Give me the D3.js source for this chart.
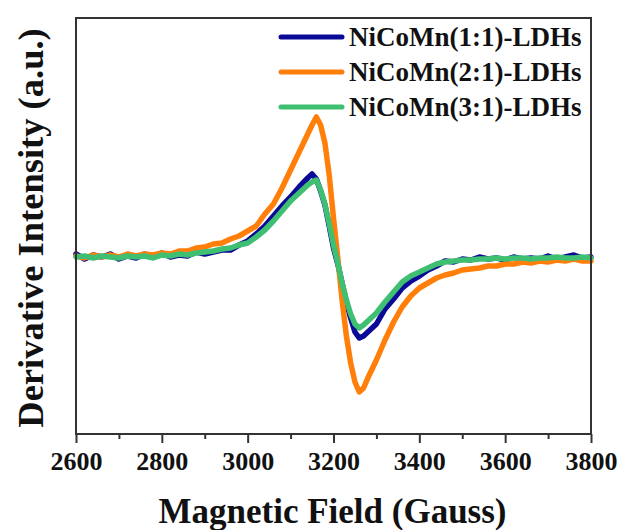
<html>
<head>
<style>
  body { margin: 0; background: #fff; }
  text { font-family: "Liberation Serif", "Times New Roman", serif; font-weight: bold; fill: #111; }
</style>
</head>
<body>
<svg></svg>
<script src="https://d3js.org/d3.v7.min.js"></script>
<script>
// magnetic field (Gauss)
var fieldG = [2600,2620,2640,2660,2680,2700,2720,2740,2760,2780,2800,2820,2840,2860,2880,2900,2920,2940,2960,2980,
  3000,3020,3040,3060,3080,3100,3120,3140,3150,3160,3170,3180,3190,3200,3210,3220,3230,3240,3250,3260,3270,3280,
  3300,3320,3340,3360,3380,3400,3420,3440,3460,3480,3500,3520,3540,3560,3580,3600,3620,3640,3660,3680,3700,3720,3740,3760,3780,3800];

// derivative intensity (a.u.)
var ldh11 = [0.02,-0.03,0.01,-0.01,0.02,-0.03,0.00,-0.02,0.02,-0.01,0.03,-0.01,0.01,0.00,0.04,0.02,0.04,0.06,0.06,0.11,
  0.15,0.22,0.30,0.40,0.50,0.59,0.69,0.78,0.82,0.77,0.65,0.51,0.30,0.08,-0.08,-0.27,-0.46,-0.62,-0.76,-0.82,-0.80,-0.76,
  -0.68,-0.53,-0.43,-0.32,-0.25,-0.20,-0.14,-0.10,-0.05,-0.06,-0.03,-0.04,-0.01,-0.03,-0.02,-0.04,-0.01,-0.03,-0.02,-0.03,0.00,-0.03,-0.01,0.01,-0.02,-0.01];
var ldh21 = [0.00,-0.02,0.01,-0.01,0.01,-0.01,0.02,0.00,0.02,0.01,0.03,0.02,0.05,0.05,0.08,0.09,0.12,0.13,0.17,0.20,
  0.25,0.30,0.42,0.52,0.68,0.86,1.04,1.22,1.31,1.39,1.31,1.13,0.81,0.38,-0.02,-0.44,-0.80,-1.07,-1.26,-1.36,-1.32,-1.22,
  -1.04,-0.84,-0.66,-0.51,-0.40,-0.32,-0.27,-0.22,-0.19,-0.17,-0.14,-0.13,-0.12,-0.10,-0.10,-0.08,-0.08,-0.06,-0.07,-0.05,-0.06,-0.04,-0.05,-0.03,-0.05,-0.05];
var ldh31 = [-0.01,0.00,-0.02,0.00,-0.01,-0.02,0.00,-0.01,0.00,-0.02,0.01,0.00,0.02,0.01,0.03,0.04,0.05,0.07,0.08,0.11,
  0.13,0.19,0.26,0.35,0.45,0.55,0.63,0.71,0.74,0.76,0.66,0.52,0.32,0.11,-0.07,-0.27,-0.44,-0.58,-0.68,-0.72,-0.69,-0.65,
  -0.57,-0.46,-0.36,-0.26,-0.20,-0.16,-0.12,-0.08,-0.06,-0.05,-0.04,-0.04,-0.03,-0.03,-0.02,-0.03,-0.02,-0.02,-0.03,-0.02,-0.02,-0.01,-0.02,-0.02,-0.01,-0.02];

var seriesNames = ["NiCoMn(1:1)-LDHs", "NiCoMn(2:1)-LDHs", "NiCoMn(3:1)-LDHs"];
var seriesColors = ["#0a0a96", "#ff7f0a", "#3fbf72"];
var xTicks = [2600,2800,3000,3200,3400,3600,3800];
var xMinor = [2700,2900,3100,3300,3500,3700];

var W = 621, H = 530;
var plotL = 76, plotR = 591, plotT = 18, plotB = 434;
var serif = "Liberation Serif, Times New Roman, serif";

var svg = d3.select("svg").attr("width", W).attr("height", H);

var x = d3.scaleLinear().domain([2600, 3800]).range([plotL, plotR]);
var y = d3.scaleLinear().domain([-1.78, 2.38]).range([plotB, plotT]);

var line = d3.line()
  .x(function(d) { return x(d[0]); })
  .y(function(d) { return y(d[1]); });

var allSeries = [ldh11, ldh21, ldh31];

// curves (green drawn last, on top)
allSeries.forEach(function(vals, i) {
  var pts = fieldG.map(function(g, k) { return [g, vals[k]]; });
  svg.append("path")
    .datum(pts)
    .attr("d", line)
    .attr("fill", "none")
    .attr("stroke", seriesColors[i])
    .attr("stroke-width", 5.5)
    .attr("stroke-linejoin", "round")
    .attr("stroke-linecap", "round");
});

// frame
svg.append("rect")
  .attr("x", plotL).attr("y", plotT)
  .attr("width", plotR - plotL).attr("height", plotB - plotT)
  .attr("fill", "none").attr("stroke", "#333").attr("stroke-width", 2);

// x axis
var xAxis = svg.append("g")
  .attr("transform", "translate(0," + plotB + ")")
  .call(d3.axisBottom(x).tickValues(xTicks).tickSize(9).tickPadding(9).tickFormat(d3.format("d")));
xAxis.attr("font-family", serif).attr("font-size", 26).attr("font-weight", "bold");
xAxis.select(".domain").remove();
xAxis.selectAll(".tick line").attr("stroke", "#333").attr("stroke-width", 2);
xAxis.selectAll(".tick text").attr("fill", "#111");

svg.append("g")
  .attr("transform", "translate(0," + plotB + ")")
  .call(d3.axisBottom(x).tickValues(xMinor).tickSize(5).tickFormat(""))
  .call(function(g) {
    g.select(".domain").remove();
    g.selectAll(".tick line").attr("stroke", "#333").attr("stroke-width", 2);
  });

// axis titles
svg.append("text")
  .attr("x", (plotL + plotR) / 2 - 1).attr("y", 523)
  .attr("text-anchor", "middle").attr("font-size", 35)
  .text("Magnetic Field (Gauss)");

svg.append("text")
  .attr("transform", "translate(43,228) rotate(-90)")
  .attr("text-anchor", "middle").attr("font-size", 36.5)
  .text("Derivative Intensity (a.u.)");

// legend
var legend = svg.append("g");
seriesNames.forEach(function(name, i) {
  var ly = 37 + i * 35;
  legend.append("line")
    .attr("x1", 281).attr("x2", 342).attr("y1", ly).attr("y2", ly)
    .attr("stroke", seriesColors[i]).attr("stroke-width", 5).attr("stroke-linecap", "round");
  legend.append("text")
    .attr("x", 349).attr("y", ly + 9)
    .attr("font-size", 27)
    .text(name);
});
</script>
</body>
</html>
